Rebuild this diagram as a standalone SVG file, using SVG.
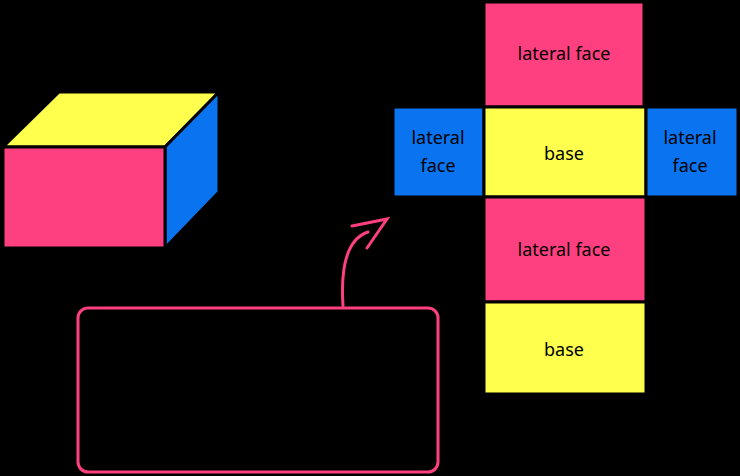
<svg xmlns="http://www.w3.org/2000/svg" width="740" height="476" viewBox="0 0 740 476">
<style>
.f{stroke:#000;stroke-width:3;stroke-linejoin:round}
.p{fill:#ff4080}.y{fill:#ffff4d}.b{fill:#0a74f0}
text{font-family:"Noto Sans","Liberation Sans",sans-serif;font-size:18px;fill:#000;text-anchor:middle}
.c{fill:none;stroke:#ff4080;stroke-width:3;stroke-linecap:round}
</style>
<rect width="740" height="476" fill="#000"/>
<g id="prism">
<polygon class="f y" points="3,147 59,92 219,92 165,147"/>
<polygon class="f b" points="165,147 219,92 219,192 165,248"/>
<rect class="f p" x="3" y="147" width="162" height="101"/>
</g>
<g id="top"><rect class="f p" x="484" y="2" width="160" height="105"/><text x="564" y="60">lateral face</text></g>
<g id="left"><rect class="f b" x="393" y="107" width="91" height="90"/><text x="438" y="144">lateral</text><text x="438" y="172">face</text></g>
<g id="base1"><rect class="f y" x="484" y="107" width="162" height="90"/><text x="564" y="160">base</text></g>
<g id="right"><rect class="f b" x="646" y="107" width="92" height="90"/><text x="690" y="144">lateral</text><text x="690" y="172">face</text></g>
<g id="bottom"><rect class="f p" x="484" y="197" width="162" height="105"/><text x="564" y="256">lateral face</text></g>
<g id="base2"><rect class="f y" x="484" y="302" width="162" height="92"/><text x="564" y="356">base</text></g>
<g id="callout"><rect class="c" x="78" y="308" width="360" height="164" rx="10"/></g>
<g id="connectors">
<path class="c" d="M343,306 C340,260 350,238 368,232"/>
<path class="c" d="M352,226 L387,219 L367,248"/>
</g>
</svg>
